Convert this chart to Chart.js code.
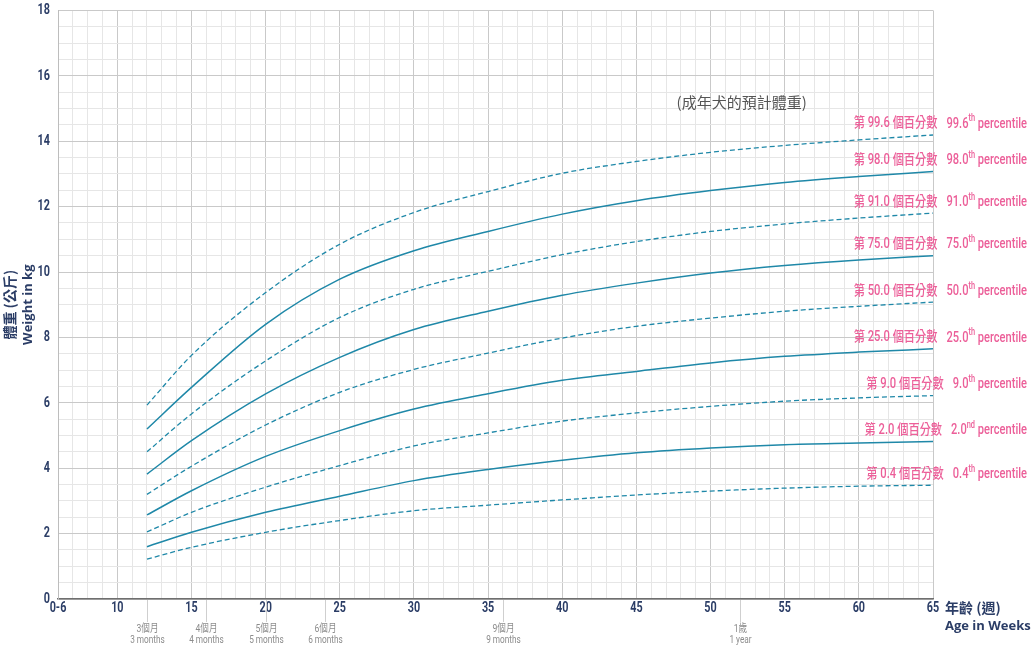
<!DOCTYPE html>
<html>
<head>
<meta charset="utf-8">
<script src="https://cdn.jsdelivr.net/npm/chart.js@4"></script>
<style>
  html, body { margin: 0; padding: 0; background: #fff; overflow: hidden; }
  #wrap { width: 1034px; height: 648px; overflow: hidden; }
  #chart { display: block; margin-top: -6px; }
</style>
</head>
<body>
<div id="wrap"><canvas id="chart" width="1034" height="654"></canvas></div>
<script>
// age in weeks for every sampled point
const weeks = [12, 15, 20, 25, 30, 35, 40, 45, 50, 55, 60, 65];

// weight in kg per percentile curve
const p996 = [5.93, 7.45, 9.37, 10.85, 11.82, 12.46, 13.02, 13.38, 13.66, 13.87, 14.04, 14.19];
const p980 = [5.20, 6.47, 8.40, 9.78, 10.65, 11.24, 11.77, 12.18, 12.49, 12.74, 12.92, 13.07];
const p910 = [4.50, 5.66, 7.28, 8.61, 9.47, 10.02, 10.53, 10.93, 11.24, 11.47, 11.65, 11.80];
const p750 = [3.82, 4.84, 6.27, 7.39, 8.24, 8.80, 9.29, 9.66, 9.97, 10.20, 10.37, 10.50];
const p500 = [3.20, 4.06, 5.32, 6.32, 7.02, 7.52, 7.98, 8.34, 8.59, 8.80, 8.95, 9.08];
const p250 = [2.57, 3.31, 4.36, 5.15, 5.81, 6.28, 6.69, 6.96, 7.22, 7.42, 7.55, 7.65];
const p090 = [2.05, 2.65, 3.42, 4.08, 4.68, 5.08, 5.44, 5.69, 5.89, 6.05, 6.15, 6.22];
const p020 = [1.60, 2.04, 2.65, 3.14, 3.62, 3.96, 4.24, 4.47, 4.62, 4.72, 4.77, 4.82];
const p004 = [1.22, 1.58, 2.04, 2.40, 2.70, 2.87, 3.03, 3.18, 3.30, 3.39, 3.45, 3.48];

const curves = [p996, p980, p910, p750, p500, p250, p090, p020, p004];
const dashed = [true, false, true, false, true, false, true, false, true];

// curve labels
const pctZh = ['第 99.6 個百分數', '第 98.0 個百分數', '第 91.0 個百分數', '第 75.0 個百分數',
  '第 50.0 個百分數', '第 25.0 個百分數', '第 9.0 個百分數', '第 2.0 個百分數', '第 0.4 個百分數'];
const pctNum = ['99.6', '98.0', '91.0', '75.0', '50.0', '25.0', '9.0', '2.0', '0.4'];
const pctSup = ['th', 'th', 'th', 'th', 'th', 'th', 'th', 'nd', 'th'];

// month markers under the x axis
const monthWeeks = [12, 16, 20, 24, 36, 52];
const monthZh = ['3個月', '4個月', '5個月', '6個月', '9個月', '1歲'];
const monthEn = ['3 months', '4 months', '5 months', '6 months', '9 months', '1 year'];

const noteText = '(成年犬的預計體重)';
const noteAt = { week: 52.1, kg: 15.2 };

const NAVY = '#2b3d66';
const PINK = '#ec5f99';
const LINE = '#1f88a8';
const SANS = 'Roboto, "Noto Sans CJK TC", sans-serif';

const xLabel = v => v === 6 ? '0-6' : (v % 5 === 0 ? String(v) : '');
const yLabel = v => v % 2 === 0 ? String(v) : '';

// draws text squeezed horizontally (the original uses a condensed face)
function narrowText(ctx, text, x, y, font, sx) {
    ctx.save();
    ctx.font = font;
    ctx.translate(x, y);
    ctx.scale(sx, 1);
    ctx.fillText(text, 0, 0);
    ctx.restore();
}
function narrowWidth(ctx, text, font, sx) {
    ctx.save();
    ctx.font = font;
    const w = ctx.measureText(text).width * sx;
    ctx.restore();
    return w;
}

const textPlugin = {
    id: 'textPlugin',
    afterDraw(chart) {
        const ctx = chart.ctx;
        const xs = chart.scales.x;
        const ys = chart.scales.y;
        const area = chart.chartArea;
        ctx.save();
        ctx.textBaseline = 'middle';
        ctx.textAlign = 'left';

        // tick labels in a condensed look
        const fTick = 'bold 15px ' + SANS;
        ctx.fillStyle = NAVY;
        xs.ticks.forEach(t => {
            const s = xLabel(t.value);
            if (!s) return;
            const w = narrowWidth(ctx, s, fTick, 0.72);
            narrowText(ctx, s, xs.getPixelForValue(t.value) - w / 2, area.bottom + 9, fTick, 0.72);
        });
        ys.ticks.forEach(t => {
            const s = yLabel(t.value);
            if (!s) return;
            const w = narrowWidth(ctx, s, fTick, 0.72);
            narrowText(ctx, s, area.left - 8 - w, ys.getPixelForValue(t.value), fTick, 0.72);
        });

        // month tick lines and labels
        ctx.strokeStyle = '#cfcfcf';
        ctx.lineWidth = 1;
        monthWeeks.forEach((w, i) => {
            const px = Math.round(xs.getPixelForValue(w)) + 0.5;
            ctx.beginPath();
            ctx.moveTo(px, area.bottom + 1);
            ctx.lineTo(px, area.bottom + 23);
            ctx.stroke();
            ctx.fillStyle = '#8c8c8c';
            const f1 = '11px ' + SANS;
            const w1 = narrowWidth(ctx, monthZh[i], f1, 0.78);
            const w2 = narrowWidth(ctx, monthEn[i], f1, 0.75);
            narrowText(ctx, monthZh[i], px - w1 / 2, area.bottom + 30, f1, 0.78);
            narrowText(ctx, monthEn[i], px - w2 / 2, area.bottom + 41, f1, 0.75);
        });

        // percentile labels, right aligned, just above each curve end
        const right = 1027;
        const fMain = '500 15px ' + SANS;
        const fSup = '500 10px ' + SANS;
        const fZh = '500 14px ' + SANS;
        const sEn = 0.74, sZh = 0.8;
        ctx.fillStyle = PINK;
        curves.forEach((c, i) => {
            const py = ys.getPixelForValue(c[c.length - 1]) - 11;
            const wPer = narrowWidth(ctx, ' percentile', fMain, sEn);
            const wNum = narrowWidth(ctx, pctNum[i], fMain, sEn);
            const wSup = narrowWidth(ctx, pctSup[i], fSup, sEn);
            const wZh = narrowWidth(ctx, pctZh[i], fZh, sZh);
            const x = right - wPer - wSup - wNum;
            narrowText(ctx, pctNum[i], x, py, fMain, sEn);
            narrowText(ctx, pctSup[i], x + wNum, py - 5, fSup, sEn);
            narrowText(ctx, ' percentile', x + wNum + wSup, py, fMain, sEn);
            narrowText(ctx, pctZh[i], x - 9 - wZh, py, fZh, sZh);
        });

        // note
        ctx.fillStyle = '#555';
        ctx.font = '15px "Noto Sans CJK TC", sans-serif';
        ctx.textAlign = 'center';
        ctx.fillText(noteText, xs.getPixelForValue(noteAt.week), ys.getPixelForValue(noteAt.kg));

        // x axis title
        ctx.fillStyle = NAVY;
        ctx.textAlign = 'left';
        ctx.font = 'bold 14px "Noto Sans CJK TC", sans-serif';
        ctx.fillText('年齡 (週)', area.right + 12, area.bottom + 9);
        ctx.font = 'bold 13px "Open Sans", sans-serif';
        ctx.fillText('Age in Weeks', area.right + 12, area.bottom + 27);

        // y axis title
        const cy = (area.top + area.bottom) / 2;
        ctx.translate(10, cy);
        ctx.rotate(-Math.PI / 2);
        ctx.textAlign = 'center';
        ctx.font = 'bold 14px "Noto Sans CJK TC", sans-serif';
        ctx.fillText('體重 (公斤)', 0, 0);
        ctx.font = 'bold 13px "Open Sans", sans-serif';
        ctx.fillText('Weight in kg', 0, 18);
        ctx.restore();
    }
};

const datasets = curves.map((c, i) => ({
    data: c.map((v, j) => ({ x: weeks[j], y: v })),
    borderColor: LINE,
    borderWidth: dashed[i] ? 1.3 : 1.5,
    borderDash: dashed[i] ? [5, 3] : [],
    pointRadius: 0,
    fill: false,
    cubicInterpolationMode: 'monotone'
}));

new Chart(document.getElementById('chart'), {
    type: 'line',
    data: { datasets: datasets },
    plugins: [textPlugin],
    options: {
        responsive: false,
        animation: false,
        layout: { padding: { top: 5, right: 101, left: 0, bottom: 0 } },
        plugins: { legend: { display: false }, tooltip: { enabled: false } },
        scales: {
            x: {
                type: 'linear',
                min: 6,
                max: 65,
                afterFit(scale) { scale.height = 49; },
                ticks: {
                    stepSize: 1,
                    autoSkip: false,
                    maxRotation: 0,
                    padding: 3,
                    color: 'rgba(0,0,0,0)',
                    font: { family: 'Roboto, sans-serif', size: 14, weight: 'bold' },
                    callback: xLabel
                },
                grid: {
                    drawTicks: false,
                    color: c => (c.tick && c.tick.value % 5 === 0) ? '#c9c9c9' : '#e6e6e6'
                },
                border: { color: '#6f6f6f', width: 1.5 }
            },
            y: {
                min: 0,
                max: 18,
                afterFit(scale) { scale.width = 58; },
                ticks: {
                    stepSize: 0.5,
                    autoSkip: false,
                    padding: 8,
                    color: 'rgba(0,0,0,0)',
                    font: { family: 'Roboto, sans-serif', size: 14, weight: 'bold' },
                    callback: yLabel
                },
                grid: {
                    drawTicks: false,
                    color: c => (c.tick && c.tick.value % 2 === 0) ? '#c9c9c9' : '#e6e6e6'
                },
                border: { color: '#bdbdbd', width: 1 }
            }
        }
    }
});
</script>
</body>
</html>
